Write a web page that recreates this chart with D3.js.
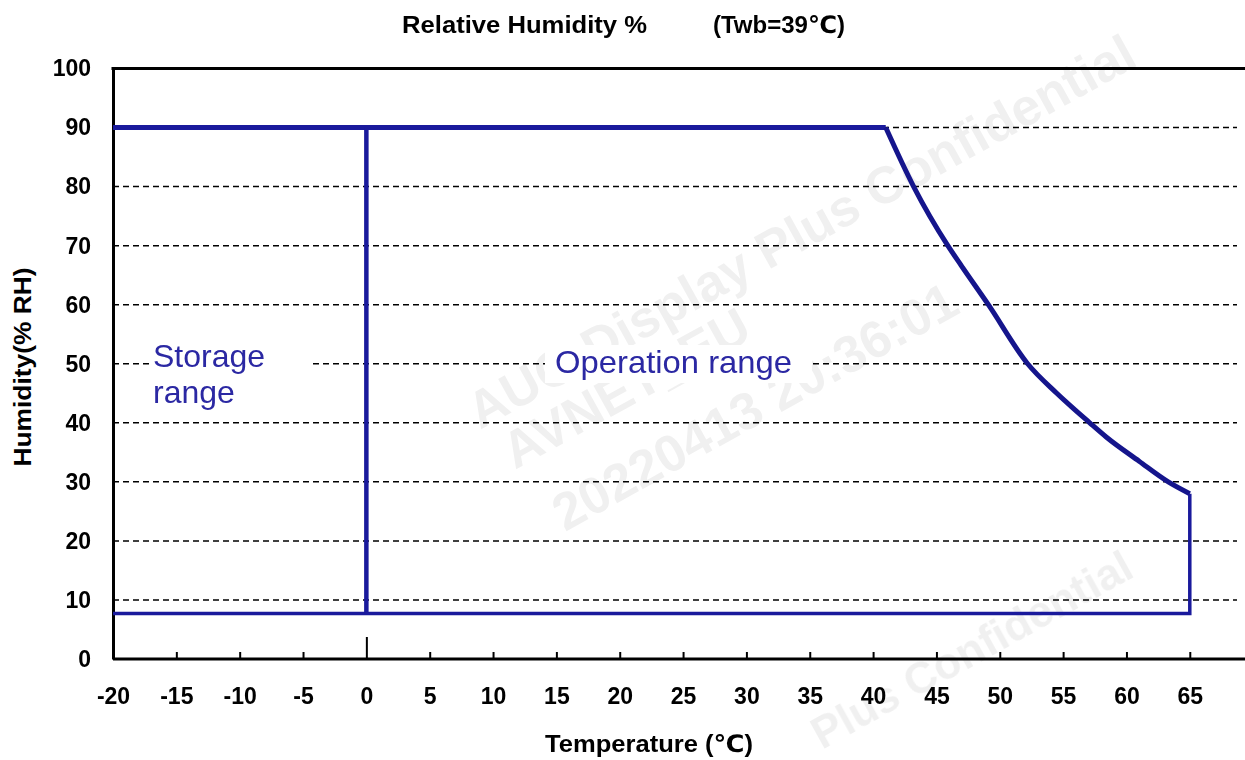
<!DOCTYPE html>
<html>
<head>
<meta charset="utf-8">
<script src="https://cdn.jsdelivr.net/npm/d3@7"></script>
<style>
  body { margin: 0; background: #fff; }
  text { font-family: "Liberation Sans", Arial, "DejaVu Sans", sans-serif; }
</style>
</head>
<body>
<script>
// humidity vs temperature operating / storage range

var xTicks = [-20, -15, -10, -5, 0, 5, 10, 15, 20, 25, 30, 35, 40, 45, 50, 55, 60, 65];
var yTicks = [0, 10, 20, 30, 40, 50, 60, 70, 80, 90, 100];
var gridRH = [10, 20, 30, 40, 50, 60, 70, 80, 90];

// top limit: flat 90% then the Twb=39 curve down to 65 C
var upperTemp = [-20, 41, 43.2, 45.9, 47, 49.1, 52.2, 54.5, 57.1, 58.4, 61, 63.3, 65];
var upperRH   = [90, 90, 80, 70, 66.5, 60, 50, 45, 40, 37.6, 33.5, 30, 28];
// right edge and bottom limit
var lowerTemp = [65, 65, -20];
var lowerRH   = [28, 7.7, 7.7];
// storage / operation divider at 0 C
var dividerTemp = [0, 0];
var dividerRH   = [90, 7.7];

var W = 1245, H = 760;
var svg = d3.select("body").append("svg").attr("width", W).attr("height", H);

var x = d3.scaleLinear().domain([-20, 69.2]).range([113, 1243]);
var y = d3.scaleLinear().domain([0, 100]).range([659, 68.5]);

// watermark
var wm = svg.append("g").attr("fill", "#000").attr("opacity", 0.06)
  .attr("font-weight", "bold").attr("font-size", 52);
wm.append("text").attr("transform", "translate(480,430) rotate(-29)").text("AUO Display Plus Confidential");
wm.append("text").attr("transform", "translate(515,470) rotate(-29)").text("AVNET_EU");
wm.append("text").attr("transform", "translate(565,532) rotate(-29)").text("20220413 20:36:01");
wm.append("text").attr("transform", "translate(822,750) rotate(-29)").attr("font-size", 44)
  .text("Plus Confidential");

// dashed grid
svg.append("g").selectAll("line").data(gridRH).enter().append("line")
  .attr("x1", x(-20)).attr("x2", 1237)
  .attr("y1", function(d) { return y(d); })
  .attr("y2", function(d) { return y(d); })
  .attr("stroke", "#000").attr("stroke-width", 1.5)
  .attr("stroke-dasharray", "6,4");

// white boxes behind the labels
svg.append("rect").attr("x", 150).attr("y", 338).attr("width", 160).attr("height", 76).attr("fill", "#fff");
svg.append("rect").attr("x", 545).attr("y", 345).attr("width", 267).attr("height", 38).attr("fill", "#fff");

// axes
var xAxis = svg.append("g").attr("transform", "translate(0," + y(0) + ")")
  .call(d3.axisBottom(x).tickValues(xTicks).tickFormat(function(d) { return String(d); })
    .tickSizeInner(-7).tickSizeOuter(0).tickPadding(29));
xAxis.select(".domain").attr("stroke-width", 3).attr("d", "M" + x(-20) + ",0H1245");
xAxis.selectAll(".tick line").attr("stroke-width", 2)
  .filter(function(d) { return d === 0; }).attr("y2", -22);
xAxis.selectAll(".tick text").attr("font-size", 23).attr("font-weight", "bold")
  .attr("font-family", "Liberation Sans, Arial, sans-serif");

var yAxis = svg.append("g").attr("transform", "translate(" + x(-20) + ",0)")
  .call(d3.axisLeft(y).tickValues(yTicks).tickSize(0).tickPadding(22));
yAxis.select(".domain").attr("stroke-width", 3);
yAxis.selectAll(".tick text").attr("font-size", 23).attr("font-weight", "bold")
  .attr("font-family", "Liberation Sans, Arial, sans-serif");

svg.append("line").attr("x1", x(-20) - 1.5).attr("x2", 1245)
  .attr("y1", y(100)).attr("y2", y(100))
  .attr("stroke", "#000").attr("stroke-width", 3);

// range boundaries
var line = d3.line()
  .x(function(d) { return x(d[0]); })
  .y(function(d) { return y(d[1]); });
var curve = d3.line()
  .x(function(d) { return x(d[0]); })
  .y(function(d) { return y(d[1]); })
  .curve(d3.curveMonotoneX);
var blue = "#1a1a9c";
var upper = d3.zip(upperTemp, upperRH);

svg.append("path").datum(upper.slice(0, 2)).attr("d", line)
  .attr("fill", "none").attr("stroke", blue).attr("stroke-width", 5);
svg.append("path").datum(upper.slice(1)).attr("d", curve)
  .attr("fill", "none").attr("stroke", "#15158c").attr("stroke-width", 5)
  .attr("stroke-linejoin", "round");
svg.append("path").datum(d3.zip(lowerTemp, lowerRH)).attr("d", line)
  .attr("fill", "none").attr("stroke", blue).attr("stroke-width", 3.5);
svg.append("path").datum(d3.zip(dividerTemp, dividerRH)).attr("d", line)
  .attr("fill", "none").attr("stroke", blue).attr("stroke-width", 4.5);

// region labels
var lblColor = "#2b28a3";
svg.append("text").attr("x", 153).attr("y", 367).attr("font-size", 32)
  .attr("fill", lblColor).text("Storage");
svg.append("text").attr("x", 153).attr("y", 403).attr("font-size", 32)
  .attr("fill", lblColor).text("range");
svg.append("text").attr("x", 555).attr("y", 373).attr("font-size", 32)
  .attr("textLength", 237).attr("lengthAdjust", "spacingAndGlyphs")
  .attr("fill", lblColor).text("Operation range");

// titles
svg.append("text").attr("x", 402).attr("y", 33).attr("font-size", 24).attr("font-weight", "bold")
  .attr("textLength", 245).attr("lengthAdjust", "spacingAndGlyphs")
  .text("Relative Humidity %");
svg.append("text").attr("x", 713).attr("y", 33).attr("font-size", 24).attr("font-weight", "bold")
  .text("(Twb=39\u2103)");
svg.append("text").attr("x", 545).attr("y", 752).attr("font-size", 24).attr("font-weight", "bold")
  .attr("textLength", 208).attr("lengthAdjust", "spacingAndGlyphs")
  .text("Temperature (\u2103)");
svg.append("text").attr("transform", "translate(31,367) rotate(-90)")
  .attr("text-anchor", "middle").attr("font-size", 24).attr("font-weight", "bold")
  .attr("textLength", 199).attr("lengthAdjust", "spacingAndGlyphs")
  .text("Humidity(% RH)");
</script>
</body>
</html>
